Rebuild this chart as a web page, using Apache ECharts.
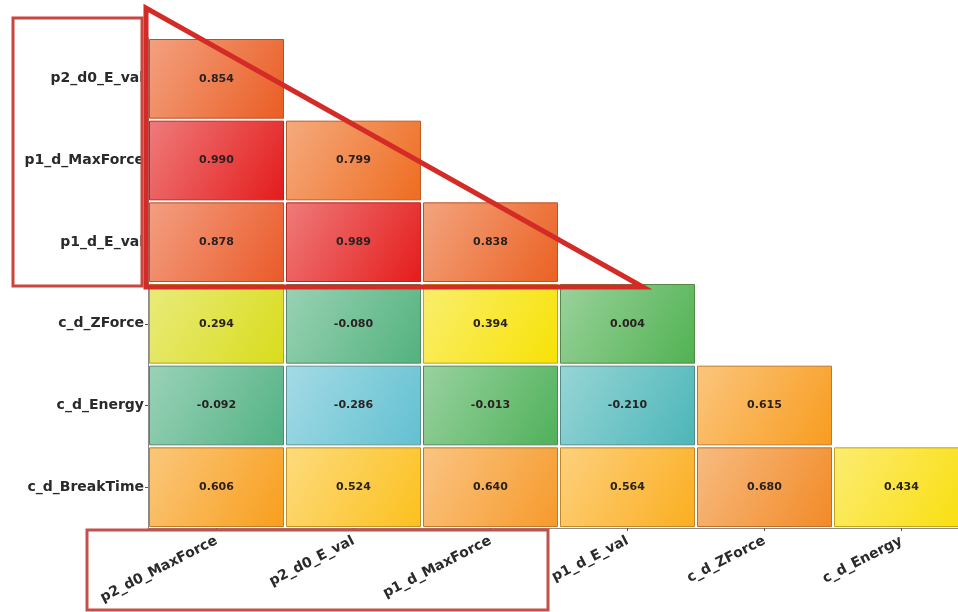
<!DOCTYPE html>
<html><head><meta charset="utf-8">
<script src="https://cdn.jsdelivr.net/npm/echarts@6/dist/echarts.min.js"></script>
<style>html,body{margin:0;padding:0;background:#fff}#c{width:958px;height:612px}</style>
</head><body><div id="c"></div>
<script>
const xCategories = ['p2_d0_MaxForce','p2_d0_E_val','p1_d_MaxForce','p1_d_E_val','c_d_ZForce','c_d_Energy'];
const yCategories = ['c_d_BreakTime','c_d_Energy','c_d_ZForce','p1_d_E_val','p1_d_MaxForce','p2_d0_E_val'];
const rowBreakTime = [0.606, 0.524, 0.640, 0.564, 0.680, 0.434];
const rowEnergy = [-0.092, -0.286, -0.013, -0.210, 0.615];
const rowZForce = [0.294, -0.080, 0.394, 0.004];
const rowP1EVal = [0.878, 0.989, 0.838];
const rowP1MaxForce = [0.990, 0.799];
const rowP2d0EVal = [0.854];
const rows = [rowBreakTime, rowEnergy, rowZForce, rowP1EVal, rowP1MaxForce, rowP2d0EVal];

const data = [];
rows.forEach((r, yi) => r.forEach((v, xi) => data.push([xi, yi, v])));

// colour map (style only)
const cmap = [
  [-0.30,'#66c2d6'],[-0.21,'#4cb6b8'],[-0.09,'#52b283'],[0.00,'#4fb153'],
  [0.15,'#a5cb30'],[0.29,'#d8dc1c'],[0.40,'#f9e204'],[0.45,'#f9dc10'],
  [0.52,'#fcc21e'],[0.56,'#fbb020'],[0.61,'#f89c1c'],[0.64,'#f69a2a'],
  [0.68,'#f28a26'],[0.80,'#ee6c20'],[0.85,'#ea5e22'],[0.88,'#ea5a28'],[0.99,'#e41b1b']
];
function hex(c){return [parseInt(c.slice(1,3),16),parseInt(c.slice(3,5),16),parseInt(c.slice(5,7),16)];}
function rgb(a){return 'rgb('+a.map(v=>Math.round(Math.max(0,Math.min(255,v)))).join(',')+')';}
function baseColor(v){
  if (v <= cmap[0][0]) return hex(cmap[0][1]);
  for (let i=1;i<cmap.length;i++){
    if (v <= cmap[i][0]){
      const t=(v-cmap[i-1][0])/(cmap[i][0]-cmap[i-1][0]);
      const a=hex(cmap[i-1][1]), b=hex(cmap[i][1]);
      return a.map((x,k)=>x+(b[k]-x)*t);
    }
  }
  return hex(cmap[cmap.length-1][1]);
}
function mix(a,b,t){return a.map((x,k)=>x+(b[k]-x)*t);}

const chart = echarts.init(document.getElementById('c'));
const labelFont = 'DejaVu Sans';
chart.setOption({
  animation:false,
  backgroundColor:'#fff',
  grid:{left:148,width:822,top:38,height:490,containLabel:false,outerBoundsMode:'none'},
  xAxis:{
    type:'category', data:xCategories, boundaryGap:true,
    axisLine:{lineStyle:{color:'#8a8a8a',width:1}},
    axisTick:{show:true,alignWithLabel:true,length:3,lineStyle:{color:'#555'}},
    axisLabel:{rotate:27,margin:12,fontFamily:labelFont,fontWeight:'bold',fontSize:14,color:'#2a2a2a'},
    splitLine:{show:false}
  },
  yAxis:{
    type:'category', data:yCategories, boundaryGap:true,
    axisLine:{lineStyle:{color:'#8a8a8a',width:1}},
    axisTick:{show:true,alignWithLabel:true,length:3,lineStyle:{color:'#555'}},
    axisLabel:{margin:4,fontFamily:labelFont,fontWeight:'bold',fontSize:14,color:'#2a2a2a'},
    splitLine:{show:false}
  },
  series:[{
    type:'custom',
    data:data,
    encode:{x:0,y:1},
    clip:false,
    renderItem:function(params, api){
      const v = api.value(2);
      const p = api.coord([api.value(0), api.value(1)]);
      const s = api.size([1,1]);
      const g = 1.5;
      const x = p[0]-s[0]/2+g, y = p[1]-s[1]/2+g, w = s[0]-2*g, h = s[1]-2*g;
      const b = baseColor(v);
      const light = mix(b,[255,255,255],0.42);
      const dark = mix(b,[90,60,40],0.35);
      return {
        type:'group',
        children:[
          {type:'rect', shape:{x:x,y:y,width:w,height:h},
           style:{fill:new echarts.graphic.LinearGradient(0,0,1,1,[{offset:0,color:rgb(light)},{offset:1,color:rgb(b)}]),
                  stroke:rgb(dark), lineWidth:1}},
          {type:'text', x:p[0], y:p[1],
           style:{text:v.toFixed(3), font:'bold 11px "DejaVu Sans"', fill:'#2a2222', align:'center', verticalAlign:'middle'}}
        ]
      };
    }
  }],
  graphic:[
    {type:'rect', z:100, shape:{x:13,y:18,width:129,height:268},
     style:{fill:'none',stroke:'#c9453f',lineWidth:3}},
    {type:'polygon', z:101, shape:{points:[[146,8],[146,287],[643,287]]},
     style:{fill:'none',stroke:'#d52b26',lineWidth:5,lineJoin:'miter'}},
    {type:'rect', z:100, shape:{x:87,y:530,width:461,height:80},
     style:{fill:'none',stroke:'#c4504b',lineWidth:3}}
  ]
});
</script></body></html>
